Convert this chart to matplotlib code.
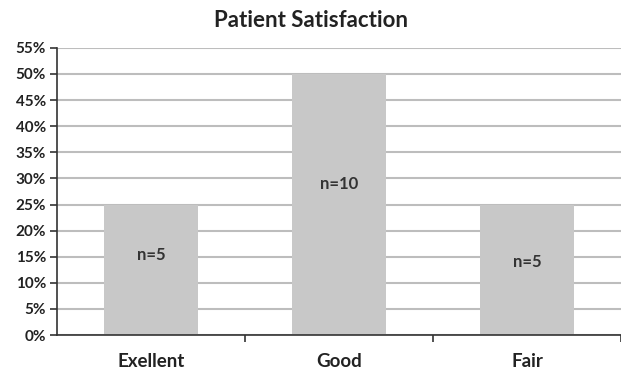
import matplotlib
matplotlib.use("agg")
import matplotlib.pyplot as plt
from matplotlib.ticker import FixedLocator, PercentFormatter

# satisfaction shares and counts
categories = ["Exellent", "Good", "Fair"]
shares = [25, 50, 25]
labels = ["n=5", "n=10", "n=5"]
label_y = [15.3, 28.9, 14.0]

plt.rcParams['font.family'] = ['Lato', 'DejaVu Sans']

fig = plt.figure(figsize=(6.21, 3.74), dpi=100)
ax = fig.add_axes([0.092, 0.104, 0.908, 0.768])

x = list(range(len(categories)))
ax.bar(x, shares, width=0.5, color="#c8c8c8", zorder=2)
for xi, txt, ty in zip(x, labels, label_y):
	ax.text(xi, ty, txt, ha="center", va="center", fontsize=12, fontweight="bold", color="#333333", zorder=3)

ax.set_xlim(-0.5, 2.5)
ax.set_ylim(0, 55)
ax.set_yticks(range(0, 56, 5))
ax.yaxis.set_major_formatter(PercentFormatter(decimals=0))
ax.yaxis.grid(True, color="#bdbdbd", linewidth=1.5, zorder=0)
ax.set_xticks(x)
ax.set_xticklabels(categories, fontsize=13.5, fontweight="bold", color="#222222")
ax.xaxis.set_minor_locator(FixedLocator([0.5, 1.5, 2.5]))
ax.tick_params(axis="x", which="major", length=0, pad=13)
ax.tick_params(axis="x", which="minor", length=5, width=1.2, direction="out", color="#333333")
ax.tick_params(axis="y", length=5, width=1.2, direction="out", color="#333333", labelsize=11, pad=3)
for t in ax.get_yticklabels():
	t.set_fontweight("bold")
	t.set_color("#222222")

for side in ["top", "right"]:
	ax.spines[side].set_visible(False)
ax.spines["left"].set_color("#333333")
ax.spines["bottom"].set_color("#333333")
ax.spines["left"].set_linewidth(1.2)
ax.spines["bottom"].set_linewidth(1.2)

fig.text(0.5, 0.945, "Patient Satisfaction", ha="center", va="center", fontsize=16, fontweight="bold", color="#222222")

fig.savefig("out.png", dpi=100)
